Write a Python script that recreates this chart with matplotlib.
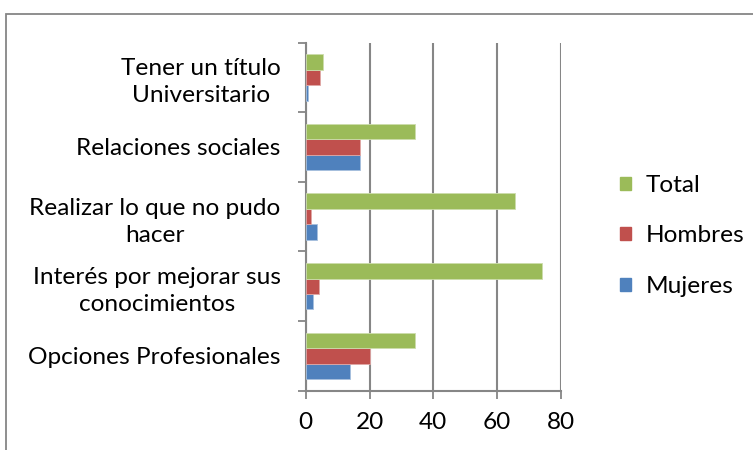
import matplotlib
matplotlib.use("Agg")
import matplotlib.pyplot as plt
from matplotlib.patches import Rectangle, Patch
import numpy as np

categories = ["Opciones Profesionales",
              "Interés por mejorar sus\nconocimientos",
              "Realizar lo que no pudo\nhacer",
              "Relaciones sociales",
              "Tener un título\nUniversitario"]
mujeres = [13.8, 2.4, 3.4, 17.1, 0.8]
hombres = [20.2, 4.3, 1.7, 17.1, 4.4]
total = [34.2, 73.9, 65.5, 34.4, 5.4]
xticks = [0, 20, 40, 60, 80]

c_muj = "#4F81BD"
c_hom = "#C0504D"
c_tot = "#9BBB59"
gray = "#868686"

plt.rcParams['font.family'] = ['Lato', 'DejaVu Sans']
FS = 17.6

fig = plt.figure(figsize=(7.53, 4.5), dpi=100)
W, H = 753, 450
x0, x1 = 305.7, 561
y0, y1 = 42.5, 390.7
ax = fig.add_axes([x0 / W, 1 - y1 / H, (x1 - x0) / W, (y1 - y0) / H])

# outer chart frame (cut off on right and bottom)
fig.patches.append(Rectangle((6.5 / W, -0.1), 1.2, (H - 13.5) / H + 0.1,
                             transform=fig.transFigure, fill=False,
                             edgecolor=gray, lw=1.3))

y = np.arange(len(categories))
h = 1 / 4.5
ax.barh(y - h, mujeres, height=h, color=c_muj, edgecolor="#A7C0DE", lw=0.6, zorder=3)
ax.barh(y, hombres, height=h, color=c_hom, edgecolor="#DFA8A6", lw=0.6, zorder=3)
ax.barh(y + h, total, height=h, color=c_tot, edgecolor="#CDDDAC", lw=0.6, zorder=3)

ax.set_xlim(0, 80)
ax.set_ylim(-0.5, len(categories) - 0.5)
ax.set_xticks(xticks)
ax.set_xticklabels([str(v) for v in xticks], fontsize=FS)
ax.set_yticks(y)
ax.set_yticklabels(categories, fontsize=FS, multialignment='center', linespacing=1.35)
ax.set_yticks(np.arange(-0.5, len(categories)), minor=True)
ax.tick_params(axis='y', which='major', length=0, pad=18)
ax.tick_params(axis='y', which='minor', length=6, width=1.3, color=gray, direction='out')
ax.tick_params(axis='x', which='major', length=6, width=1.3, color=gray, direction='out', pad=9)

ax.grid(axis='x', color=gray, lw=1.5, zorder=0)
for s in ['top', 'right']:
    ax.spines[s].set_visible(False)
for s in ['left', 'bottom']:
    ax.spines[s].set_color(gray)
    ax.spines[s].set_linewidth(1.5)
ax.set_axisbelow(True)

handles = [Patch(color=c_tot), Patch(color=c_hom), Patch(color=c_muj)]
fig.legend(handles, ["Total", "Hombres", "Mujeres"], loc='center left',
           bbox_to_anchor=(598 / W, 1 - 236 / H), frameon=False, fontsize=FS,
           handlelength=0.45, handleheight=0.45, handletextpad=0.6, labelspacing=1.2)

fig.savefig("out.png", dpi=100)
